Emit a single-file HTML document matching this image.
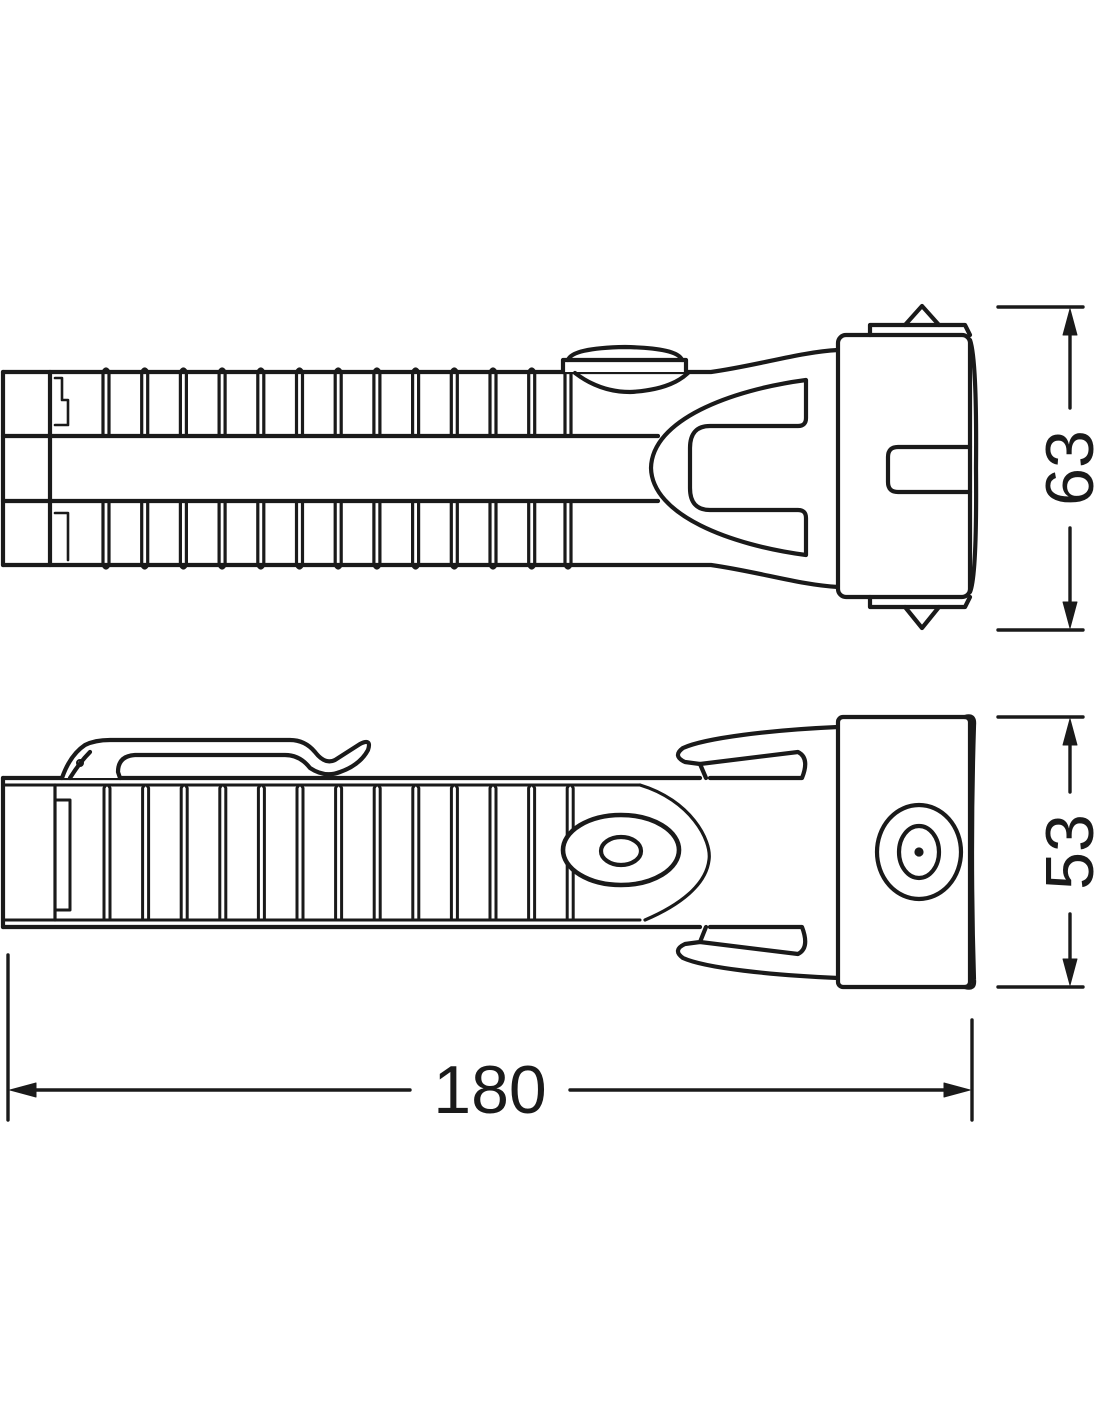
<!DOCTYPE html>
<html><head><meta charset="utf-8"><style>html,body{margin:0;padding:0;background:#fff}svg{display:block}</style></head>
<body>
<svg width="1100" height="1422" viewBox="0 0 1100 1422" xmlns="http://www.w3.org/2000/svg" fill="none" stroke="#1a1a1a" stroke-width="4.2" stroke-linejoin="round" stroke-linecap="round">
<!-- ===== TOP VIEW ===== -->
<path d="M3,372 H711 C760,365 800,352 838,350"/>
<path d="M3,565 H711 C760,572 800,585 838,587"/>
<line x1="3" y1="372" x2="3" y2="565"/>
<line x1="3" y1="436" x2="658" y2="436"/>
<line x1="3" y1="501" x2="658" y2="501"/>
<line x1="50" y1="372" x2="50" y2="565"/>
<path d="M55,378 H62 V400 H68 V425 H55" stroke-width="2.6"/>
<path d="M55,513 H68 V560" stroke-width="2.6"/>
<g stroke-width="3.2">
<g id="ribT">
<path d="M103,434 V372 Q106,366 109,372 V434"/>
<path d="M103,503 V565 Q106,571 109,565 V503"/>
</g>
<use href="#ribT" x="38.7"/><use href="#ribT" x="77.4"/><use href="#ribT" x="116.1"/><use href="#ribT" x="154.8"/><use href="#ribT" x="193.5"/><use href="#ribT" x="232.2"/><use href="#ribT" x="270.9"/><use href="#ribT" x="309.6"/><use href="#ribT" x="348.3"/><use href="#ribT" x="387"/><use href="#ribT" x="425.7"/><use href="#ribT" x="462"/>
</g>
<!-- button -->
<path d="M563,372 V360 H686 V372" fill="#fff"/>
<path d="M568,360 Q572,348 625,347 Q678,348 682,360"/>
<path d="M575,373 Q600,392 630,392 Q670,390 688,373"/>
<!-- U fork -->
<path d="M806,380 V418 Q806,426 798,426 H710 Q690,426 690,448 V488 Q690,510 710,510 H798 Q806,510 806,518 V555 C730,545 652,515 651,468 C652,420 730,390 806,380 Z" fill="#fff"/>
<!-- head -->
<rect x="838" y="335" width="132" height="262" rx="8" fill="#fff"/>
<path d="M970,340 Q977,360 976,468 Q977,576 970,592"/>
<path d="M870,335 V325 H965 L970,335"/>
<path d="M905,325 L922,306 L939,325"/>
<path d="M870,597 V607 H965 L970,597"/>
<path d="M905,607 L922,628 L939,607"/>
<path d="M970,447 H898 Q888,447 888,457 V482 Q888,492 898,492 H970"/>
<!-- dim 63 -->
<line x1="998" y1="307" x2="1083" y2="307" stroke-width="3.4"/>
<line x1="998" y1="630" x2="1083" y2="630" stroke-width="3.4"/>
<line x1="1070" y1="330" x2="1070" y2="408" stroke-width="3.4"/>
<line x1="1070" y1="528" x2="1070" y2="608" stroke-width="3.4"/>
<path d="M1063,335 L1070,309 L1077,335 Z" fill="#1a1a1a" stroke-width="1"/>
<path d="M1063,602 L1070,628 L1077,602 Z" fill="#1a1a1a" stroke-width="1"/>
<text x="1070" y="468" transform="rotate(-90 1070 468)" text-anchor="middle" dominant-baseline="central" font-family="Liberation Sans, sans-serif" font-size="68" fill="#1a1a1a" stroke="none">63</text>

<!-- ===== SIDE VIEW ===== -->
<path d="M3,778 H700"/>
<path d="M3,927 H700"/>
<line x1="3" y1="778" x2="3" y2="927"/>
<line x1="3" y1="785" x2="640" y2="785" stroke-width="3"/>
<line x1="3" y1="920" x2="640" y2="920" stroke-width="3"/>
<line x1="55" y1="785" x2="55" y2="920" stroke-width="3.2"/>
<rect x="55" y="800" width="15" height="110" stroke-width="3"/>
<g stroke-width="3">
<g id="ribS"><path d="M104,920 V788 Q107,782 110,788 V920"/></g>
<use href="#ribS" x="38.6"/><use href="#ribS" x="77.2"/><use href="#ribS" x="115.8"/><use href="#ribS" x="154.4"/><use href="#ribS" x="193"/><use href="#ribS" x="231.6"/><use href="#ribS" x="270.2"/><use href="#ribS" x="308.8"/><use href="#ribS" x="347.4"/><use href="#ribS" x="386"/><use href="#ribS" x="424.6"/><use href="#ribS" x="463.2"/>
</g>
<!-- clip -->
<path d="M62,778 Q70,755 85,745 Q95,740 110,740 H290 Q305,740 315,752 Q325,765 335,760 L360,744 Q372,738 368,750 Q360,765 340,772 Q325,778 310,768 Q300,755 285,755 H135 Q118,756 118,772 L120,778" fill="#fff"/>
<path d="M70,778 Q80,762 90,752"/>
<circle cx="80" cy="763" r="3" stroke-width="2"/>
<!-- front bump -->
<path d="M640,785 C690,800 712,840 709,860 C706,885 680,905 645,920" stroke-width="3.2"/>
<ellipse cx="621" cy="850" rx="58" ry="35" fill="#fff" stroke-width="4.6"/>
<ellipse cx="621" cy="851" rx="20" ry="14"/>
<!-- clips on head -->
<path d="M838,727 C770,730 705,738 683,748 Q672,756 685,762 L700,764 L706,778"/>
<path d="M700,764 L798,752 Q810,758 802,778 L710,778"/>
<path d="M838,978 C770,975 705,968 683,958 Q672,950 685,944 L700,942 L706,927"/>
<path d="M700,942 L798,954 Q810,948 802,927 L710,927"/>
<!-- head -->
<rect x="838" y="717" width="132" height="270" rx="5" fill="#fff"/>
<path d="M965,717 Q975,714 974,725 Q970,852 974,980 Q975,990 965,987"/>
<ellipse cx="919" cy="852" rx="42" ry="47"/>
<ellipse cx="919" cy="852" rx="20" ry="26"/>
<circle cx="919" cy="852" r="2.5" fill="#1a1a1a"/>
<!-- dim 53 -->
<line x1="998" y1="717" x2="1083" y2="717" stroke-width="3.4"/>
<line x1="998" y1="987" x2="1083" y2="987" stroke-width="3.4"/>
<line x1="1070" y1="740" x2="1070" y2="792" stroke-width="3.4"/>
<line x1="1070" y1="914" x2="1070" y2="965" stroke-width="3.4"/>
<path d="M1063,745 L1070,719 L1077,745 Z" fill="#1a1a1a" stroke-width="1"/>
<path d="M1063,959 L1070,985 L1077,959 Z" fill="#1a1a1a" stroke-width="1"/>
<text x="1070" y="852" transform="rotate(-90 1070 852)" text-anchor="middle" dominant-baseline="central" font-family="Liberation Sans, sans-serif" font-size="68" fill="#1a1a1a" stroke="none">53</text>

<!-- dim 180 -->
<line x1="8" y1="955" x2="8" y2="1120" stroke-width="3.4"/>
<line x1="972" y1="1020" x2="972" y2="1120" stroke-width="3.4"/>
<line x1="30" y1="1090" x2="410" y2="1090" stroke-width="3.4"/>
<line x1="570" y1="1090" x2="950" y2="1090" stroke-width="3.4"/>
<path d="M36,1083 L10,1090 L36,1097 Z" fill="#1a1a1a" stroke-width="1"/>
<path d="M944,1083 L970,1090 L944,1097 Z" fill="#1a1a1a" stroke-width="1"/>
<text x="490" y="1090" text-anchor="middle" dominant-baseline="central" font-family="Liberation Sans, sans-serif" font-size="68" fill="#1a1a1a" stroke="none">180</text>
</svg>
</body></html>
